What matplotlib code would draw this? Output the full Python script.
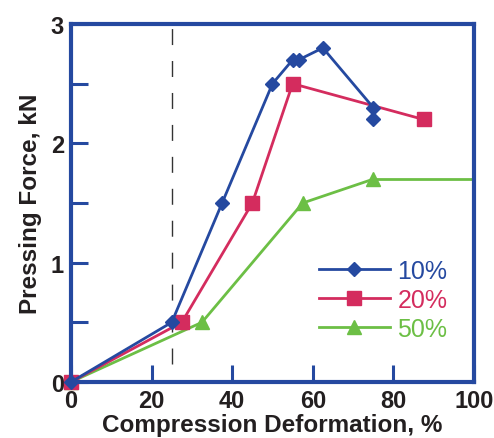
import matplotlib
matplotlib.use("Agg")
import matplotlib.pyplot as plt

plt.rcParams["font.family"] = "Liberation Sans"

blue = "#2549a0"
pink = "#d42c5e"
green = "#6cbf45"

x10 = [0, 25, 37.5, 50, 55, 56.5, 62.5, 75, 75]
y10 = [0, 0.5, 1.5, 2.5, 2.7, 2.7, 2.8, 2.3, 2.2]
x20 = [0, 27.5, 45, 55, 87.5]
y20 = [0, 0.5, 1.5, 2.5, 2.2]
x50 = [0, 32.5, 57.5, 75]
y50 = [0, 0.5, 1.5, 1.7]
x50_tail = [75, 100]
y50_tail = [1.7, 1.7]
labels = ["10%", "20%", "50%"]

fig = plt.figure(figsize=(4.94, 4.39), dpi=100)
ax = fig.add_axes([0.1437, 0.1276, 0.8158, 0.8154])

ax.plot([25, 25], [0.15, 3], color="#333333", lw=1, dashes=(11.5, 11.5))
ax.plot(x50_tail, y50_tail, color=green, lw=2, clip_on=False)
l3, = ax.plot(x50, y50, color=green, lw=2, marker="^", ms=9.5, label=labels[2], clip_on=False)
l2, = ax.plot(x20, y20, color=pink, lw=2, marker="s", ms=10, label=labels[1], clip_on=False)
l1, = ax.plot(x10, y10, color=blue, lw=2, marker="D", ms=7, label=labels[0], clip_on=False)

ax.set_xlim(0, 100)
ax.set_ylim(0, 3)
ax.set_xticks([0, 20, 40, 60, 80, 100])
ax.set_yticks([0, 0.5, 1, 1.5, 2, 2.5, 3])
ax.set_yticklabels(["0", "", "1", "", "2", "", "3"])
ax.tick_params(direction="in", length=12, width=2.2, color=blue, labelsize=17, pad=5)
for t in ax.get_xticklabels() + ax.get_yticklabels():
    t.set_fontweight("bold")
    t.set_color("#231f20")
for s in ax.spines.values():
    s.set_color(blue)
    s.set_linewidth(3)

ax.set_xlabel("Compression Deformation, %", fontsize=17.5, fontweight="bold", color="#231f20", labelpad=1)
ax.set_ylabel("Pressing Force, kN", fontsize=17.5, fontweight="bold", color="#231f20", labelpad=6)

leg = ax.legend(handles=[l1, l2, l3], loc="lower right", bbox_to_anchor=(0.99, 0.052),
                frameon=False, fontsize=18, handlelength=2.85, handletextpad=0.3,
                labelspacing=0.2, numpoints=1)
for t, c in zip(leg.get_texts(), [blue, pink, green]):
    t.set_color(c)

fig.savefig("out.png", dpi=100)
